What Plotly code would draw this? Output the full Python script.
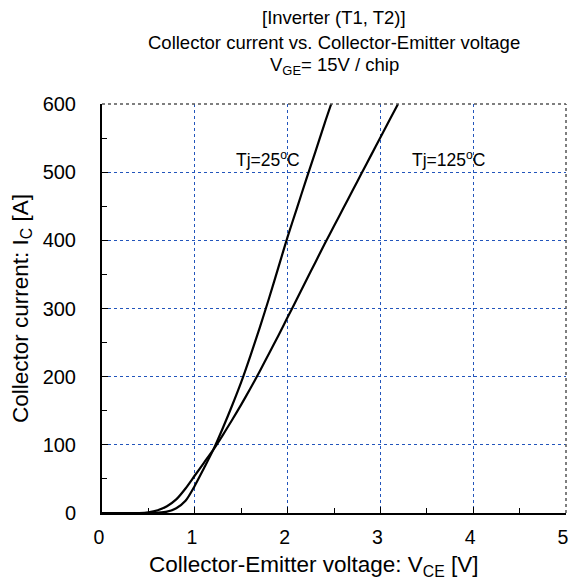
import plotly.graph_objects as go

v25 = [0.0, 0.5, 0.6, 0.7, 0.8, 0.9, 1.0, 1.1, 1.2, 1.3, 1.4, 1.5, 1.6, 1.7, 1.8, 1.9, 2.0, 2.1, 2.2, 2.3, 2.4, 2.47]
i25 = [0, 0, 0.5, 2, 7, 18, 40, 66, 93, 124, 157, 192, 231, 272, 315, 360, 405, 447, 489, 530, 572, 600]

v125 = [0.0, 0.4, 0.5, 0.6, 0.7, 0.8, 0.9, 1.0, 1.1, 1.2, 1.3, 1.4, 1.5, 1.6, 1.7, 1.8, 1.9, 2.0, 2.1, 2.2, 2.3, 2.4, 2.5, 2.6, 2.7, 2.8, 2.9, 3.0, 3.1, 3.19]
i125 = [0, 0, 1, 4, 10, 20, 36, 55, 74, 93, 114, 136, 159, 183, 208, 234, 260, 287, 314, 341, 368, 395, 421, 447, 473, 499, 525, 551, 577, 600]

x_ticks = [0, 1, 2, 3, 4, 5]
y_ticks = [0, 100, 200, 300, 400, 500, 600]

FONT = "Liberation Sans, Arial, sans-serif"

fig = go.Figure()
for v, i in [(v25, i25), (v125, i125)]:
    fig.add_trace(go.Scatter(x=v, y=i, mode="lines", line=dict(color="black", width=2.2, shape="spline", smoothing=0.8),
                             showlegend=False, hoverinfo="skip"))

fig.add_annotation(x=1.79, y=520, text="Tj=25<sup>o</sup>C", showarrow=False,
                   font=dict(size=17.5, color="black", family=FONT))
fig.add_annotation(x=3.73, y=520, text="Tj=125<sup>o</sup>C", showarrow=False,
                   font=dict(size=17.5, color="black", family=FONT))

titles = ["[Inverter (T1, T2)]", "Collector current vs. Collector-Emitter voltage",
          "V<sub>GE</sub>= 15V / chip"]
for k, t in enumerate(titles):
    fig.add_annotation(xref="paper", yref="paper", x=0.5, y=1, yshift=[87, 62, 38][k],
                       text=t, showarrow=False, yanchor="middle",
                       font=dict(size=18.5, color="black", family=FONT))

# x-axis title
fig.add_annotation(xref="paper", yref="paper", x=0.456, y=0, yshift=-53, yanchor="middle",
                   text="Collector-Emitter voltage: V<sub>CE</sub> [V]", showarrow=False,
                   font=dict(size=22.5, color="black", family=FONT))

# top and right borders
fig.add_shape(type="line", xref="paper", yref="paper", x0=0, x1=1, y0=1, y1=1,
              line=dict(color="#555555", width=1.5, dash="dot"))
fig.add_shape(type="line", xref="paper", yref="paper", x0=1, x1=1, y0=0, y1=1,
              line=dict(color="#555555", width=1.5, dash="dot"))

fig.update_layout(
    width=569, height=582,
    margin=dict(l=102, r=3, t=104, b=69, autoexpand=False),
    paper_bgcolor="white", plot_bgcolor="white",
    font=dict(family=FONT, size=20, color="black"),
    xaxis=dict(range=[0, 5], tickvals=x_ticks, ticks="inside", ticklen=6, tickcolor="black",
               showline=True, linecolor="black", linewidth=2,
               showgrid=True, gridcolor="#2255bb", griddash="dot", gridwidth=1,
               zeroline=False, ticklabelstandoff=6, ticklabelshift=-3,
               ticklabeloverflow="allow", automargin=False,
               tickfont=dict(size=19.5),
               minor=dict(dtick=0.5, tick0=0, ticks="inside", ticklen=5, tickcolor="black", showgrid=False)),
    yaxis=dict(range=[0, 600], tickvals=y_ticks, ticks="inside", ticklen=6, tickcolor="black",
               showline=True, linecolor="black", linewidth=2,
               showgrid=True, gridcolor="#2255bb", griddash="dot", gridwidth=1,
               zeroline=False, ticklabelstandoff=20, ticklabeloverflow="allow", automargin=False,
               tickfont=dict(size=20),
               minor=dict(dtick=50, tick0=0, ticks="inside", ticklen=5, tickcolor="black", showgrid=False),
               title=dict(text="Collector current: I<sub>C</sub> [A]", font=dict(size=22.5), standoff=8)),
)

fig.write_html("out.html")
